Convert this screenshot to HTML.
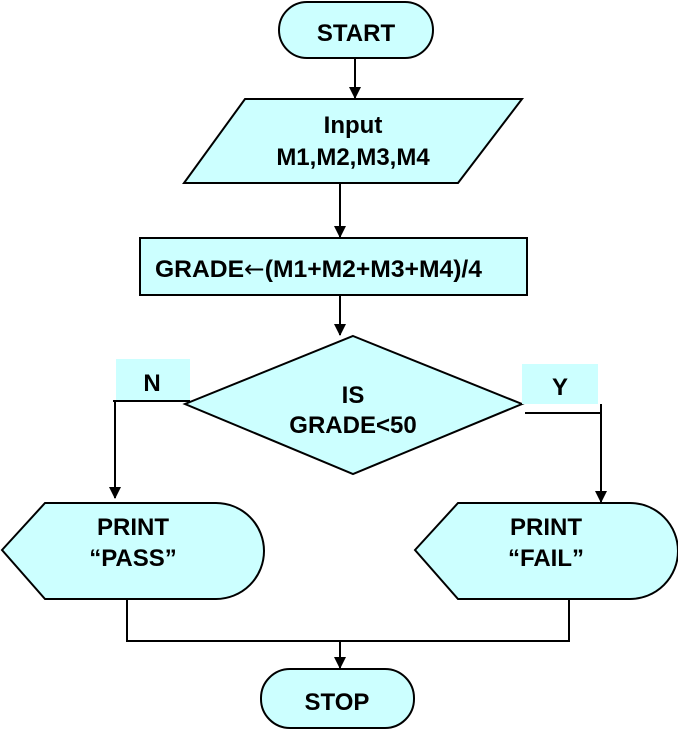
<!DOCTYPE html>
<html><head><style>body{margin:0;background:#fff}svg{display:block}text{font-family:"Liberation Sans",Arial,sans-serif;font-weight:bold;font-size:24px;fill:#000}</style></head>
<body>
<svg width="678" height="730" viewBox="0 0 678 730">
<defs><marker id="a" markerWidth="12" markerHeight="12" refX="11" refY="6" orient="auto" markerUnits="userSpaceOnUse"><path d="M0,0 L12,6 L0,12 z" fill="#000"/></marker></defs>
<g fill="#CCFFFF" stroke="#000" stroke-width="2">
<rect x="279" y="2" width="154" height="56" rx="28"/>
<polygon points="245,99 522,99 458,183 184,183"/>
<rect x="140" y="238" width="387" height="57"/>
<polygon points="353,336 522,404 353,474 185,404"/>
<path d="M2,550 L45,503 L216,503 A48,48 0 0 1 216,599 L45,599 Z"/>
<path d="M415,550 L458,503 L630,503 A48,48 0 0 1 630,599 L458,599 Z"/>
<rect x="261" y="669" width="153" height="59" rx="29"/>
</g>
<rect x="116" y="359" width="74" height="41" fill="#CCFFFF"/>
<rect x="522" y="364" width="76" height="40" fill="#CCFFFF"/>
<g stroke="#000" stroke-width="2" fill="none">
<line x1="355" y1="58" x2="355" y2="98" marker-end="url(#a)"/>
<line x1="340" y1="183" x2="340" y2="237" marker-end="url(#a)"/>
<line x1="340" y1="295" x2="340" y2="335" marker-end="url(#a)"/>
<line x1="113" y1="401" x2="190" y2="401"/>
<line x1="115" y1="401" x2="115" y2="498" marker-end="url(#a)"/>
<line x1="525" y1="413" x2="602" y2="413"/>
<line x1="601" y1="404" x2="601" y2="502" marker-end="url(#a)"/>
<polyline points="127,599 127,641 569,641 569,599"/>
<line x1="340" y1="641" x2="340" y2="668" marker-end="url(#a)"/>
</g>
<g text-anchor="middle">
<text x="356" y="41">START</text>
<text x="353" y="133">Input</text>
<text x="353" y="165">M1,M2,M3,M4</text>
<text x="155" y="277" text-anchor="start" textLength="327" lengthAdjust="spacingAndGlyphs">GRADE<tspan font-family="DejaVu Sans" font-weight="normal">←</tspan>(M1+M2+M3+M4)/4</text>
<text x="353" y="403">IS</text>
<text x="353" y="433">GRADE&lt;50</text>
<text x="152" y="391">N</text>
<text x="560" y="395">Y</text>
<text x="133" y="535">PRINT</text>
<text x="133" y="566">“PASS”</text>
<text x="546" y="535">PRINT</text>
<text x="546" y="566">“FAIL”</text>
<text x="337" y="710">STOP</text>
</g>
</svg>
</body></html>
